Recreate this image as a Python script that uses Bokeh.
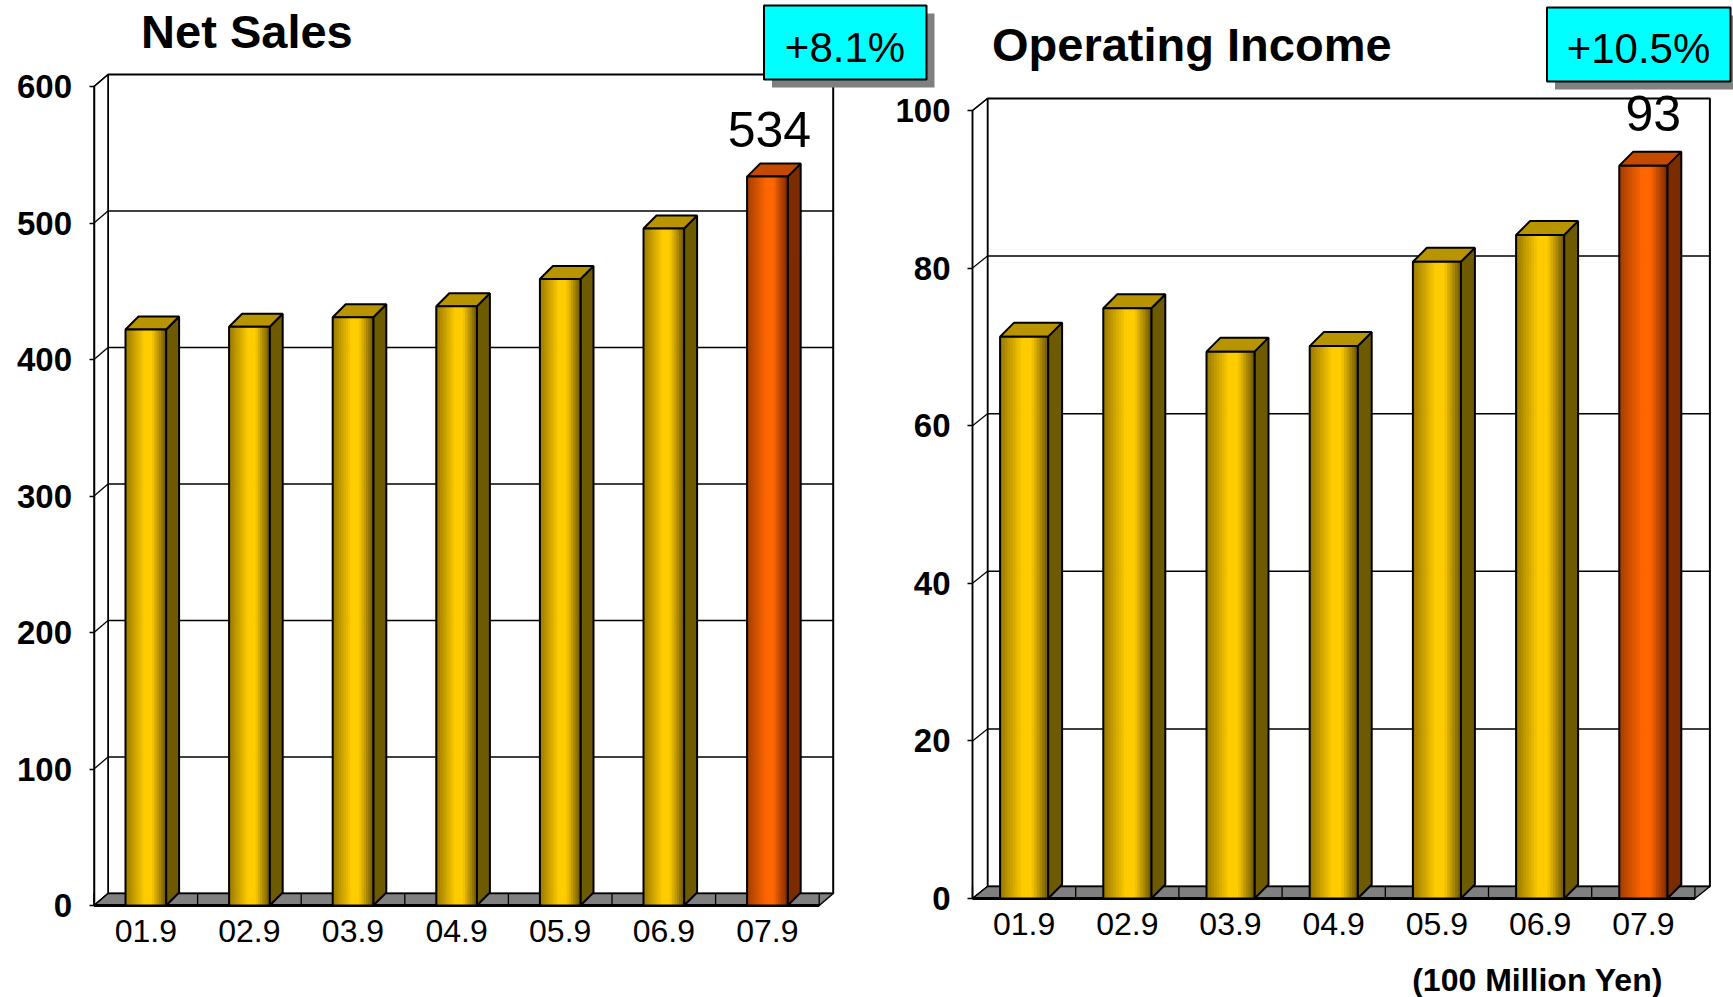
import numpy as np
from bokeh.plotting import figure
from bokeh.models import Range1d, LinearAxis, FixedTicker
from bokeh.core.properties import value
from bokeh.embed import file_html
from bokeh.resources import INLINE

# ---------------- data ----------------
categories = ["01.9", "02.9", "03.9", "04.9", "05.9", "06.9", "07.9"]
net_sales = [422, 424, 431, 439, 459, 496, 534]
operating_income = [71.3, 74.9, 69.4, 70.1, 80.8, 84.2, 93]
net_sales_ticks = [0, 100, 200, 300, 400, 500, 600]
op_income_ticks = [0, 20, 40, 60, 80, 100]
growth = ["+8.1%", "+10.5%"]
titles = ["Net Sales", "Operating Income"]
unit_note = "(100 Million Yen)"

W, H = 1733, 997
FONT = "Liberation Sans"

# ---------------- geometry (pixels) ----------------
left_cfg = dict(rn="default", x0=145.3, sx=103.6, y0=905.0, sy=1.365,
                wdx=14, wdy=12, bdx=13, bdy=13, bw=40.6,
                title_px=(140.6, 31), box_px=(763.5, 926, 5, 79), gtext_px=(844.5, 46.5),
                lab_dx=2, lab_dy=-47.5)
right_cfg = dict(rn="r", x0=1023.6, sx=103.2, y0=898.0, sy=7.88,
                 wdx=15, wdy=12, bdx=14, bdy=14, bw=48,
                 title_px=(991.5, 44), box_px=(1546.5, 1730, 7, 81), gtext_px=(1638, 47.5),
                 lab_dx=10, lab_dy=-52.5)


def rng(c):
    xr = Range1d(-c["x0"] / c["sx"], (W - c["x0"]) / c["sx"])
    yr = Range1d((c["y0"] - H) / c["sy"], c["y0"] / c["sy"])
    return xr, yr


lxr, lyr = rng(left_cfg)
rxr, ryr = rng(right_cfg)

p = figure(width=W, height=H, x_range=lxr, y_range=lyr, output_backend="svg",
           toolbar_location=None, x_axis_location=None, y_axis_location=None,
           min_border=0, title=None)
p.extra_x_ranges = {"r": rxr}
p.extra_y_ranges = {"r": ryr}
p.xgrid.visible = False
p.ygrid.visible = False
p.outline_line_color = None
p.background_fill_color = "white"
p.border_fill_color = "white"


def interp(stops, t):
    for (t0, c0), (t1, c1) in zip(stops[:-1], stops[1:]):
        if t0 <= t <= t1:
            f = 0 if t1 == t0 else (t - t0) / (t1 - t0)
            r = [int(round(a + (b - a) * f)) for a, b in zip(c0, c1)]
            return "#%02x%02x%02x" % tuple(r)
    return "#%02x%02x%02x" % stops[-1][1]


GOLD = dict(front=[(0, (150, 118, 0)), (0.48, (255, 204, 0)), (0.66, (255, 204, 0)), (1, (110, 88, 0))],
            side="#6e5a00", top="#b89500")
ORANGE = dict(front=[(0, (160, 60, 0)), (0.48, (255, 102, 0)), (0.66, (255, 102, 0)), (1, (125, 42, 0))],
              side="#7a2c00", top="#c44a00")


def draw_chart(c, values, ticks, title, gtext):
    rn = c["rn"]
    kw = dict(x_range_name=rn, y_range_name=rn)
    n = len(values)
    sx, sy = c["sx"], c["sy"]
    dxu, dyu = c["wdx"] / sx, c["wdy"] / sy
    bdx, bdy = c["bdx"] / sx, c["bdy"] / sy
    hw = c["bw"] / 2 / sx
    vmax = ticks[-1]
    xl, xr = -0.5, n - 0.5

    def px2x(px):
        return (px - c["x0"]) / sx

    def py2y(py):
        return (c["y0"] - py) / sy

    # back wall
    p.quad(left=[xl + dxu], right=[xr + dxu], bottom=[dyu], top=[vmax + dyu],
           fill_color="white", line_color="black", line_width=2, **kw)
    # side wall
    p.patch([xl, xl, xl + dxu, xl + dxu], [0, vmax, vmax + dyu, dyu],
            fill_color="white", line_color="black", line_width=1.5, **kw)
    inner = ticks[1:-1]
    p.segment(x0=[xl + dxu] * len(inner), y0=[t + dyu for t in inner],
              x1=[xr + dxu] * len(inner), y1=[t + dyu for t in inner],
              line_color="black", line_width=1.5, **kw)
    p.segment(x0=[xl] * len(ticks), y0=ticks, x1=[xl + dxu] * len(ticks),
              y1=[t + dyu for t in ticks], line_color="black", line_width=1.3, **kw)
    # floor
    p.patch([xl, xr, xr + dxu, xl + dxu], [0, 0, dyu, dyu],
            fill_color="#808080", line_color="black", line_width=1.5, **kw)
    ks = [k - 0.5 for k in range(n + 1)]
    p.segment(x0=ks, y0=[0] * len(ks), x1=ks, y1=[dyu] * len(ks),
              line_color="black", line_width=1.3, **kw)
    p.segment(x0=[xl], y0=[0], x1=[xr], y1=[0], line_color="black", line_width=3, **kw)

    # bars
    NS = 18
    sl, sr, sb, st, sc = [], [], [], [], []
    side_xs, side_ys, side_c = [], [], []
    top_xs, top_ys, top_c = [], [], []
    for i, v in enumerate(values):
        pal = ORANGE if i == n - 1 else GOLD
        left, right = i - hw, i + hw
        for k in range(NS):
            a = left + (right - left) * k / NS
            b = left + (right - left) * (k + 1) / NS
            sl.append(a); sr.append(b); sb.append(0); st.append(v)
            sc.append(interp(pal["front"], (k + 0.5) / NS))
        side_xs.append([right, right, right + bdx, right + bdx])
        side_ys.append([0, v, v + bdy, bdy])
        side_c.append(pal["side"])
        top_xs.append([left, right, right + bdx, left + bdx])
        top_ys.append([v, v, v + bdy, v + bdy])
        top_c.append(pal["top"])
    p.patches(side_xs, side_ys, fill_color=side_c, line_color="black", line_width=2, **kw)
    p.patches(top_xs, top_ys, fill_color=top_c, line_color="black", line_width=2, **kw)
    p.quad(left=sl, right=sr, bottom=sb, top=st, fill_color=sc, line_color=sc,
           line_width=1, **kw)
    p.quad(left=[i - hw for i in range(n)], right=[i + hw for i in range(n)],
           bottom=[0] * n, top=values, fill_color=None, line_color="black",
           line_width=2, **kw)

    # value label on last bar
    p.text(x=[n - 1], y=[values[-1]], text=["{:g}".format(values[-1])],
           x_offset=c["lab_dx"], y_offset=c["lab_dy"],
           text_font=value(FONT), text_font_size="50px", text_align="center",
           text_baseline="middle", text_color="black", **kw)

    # axes
    ya = LinearAxis(x_range_name=rn, y_range_name=rn,
                    ticker=FixedTicker(ticks=ticks), fixed_location=xl, bounds=(0, vmax))
    ya.axis_line_width = 1.5
    ya.axis_line_color = "black"
    ya.major_tick_in = 0
    ya.major_tick_out = 5
    ya.major_tick_line_width = 1.3
    ya.minor_tick_line_color = None
    ya.major_label_standoff = 17
    ya.major_label_text_font = FONT
    ya.major_label_text_font_style = "bold"
    ya.major_label_text_font_size = "33px"
    ya.major_label_text_color = "black"
    p.add_layout(ya, "left")

    xa = LinearAxis(x_range_name=rn, y_range_name=rn,
                    ticker=FixedTicker(ticks=list(range(n))), fixed_location=0,
                    major_label_overrides={i: cat for i, cat in enumerate(categories)})
    xa.axis_line_color = None
    xa.major_tick_line_color = None
    xa.minor_tick_line_color = None
    xa.major_label_standoff = 8
    xa.major_label_text_font = FONT
    xa.major_label_text_font_size = "32px"
    xa.major_label_text_color = "black"
    p.add_layout(xa, "below")

    # title
    tx, ty = c["title_px"]
    p.text(x=[px2x(tx)], y=[py2y(ty)], text=[title], text_font=value(FONT),
           text_font_style="bold", text_font_size="47px", text_align="left",
           text_baseline="middle", text_color="black", **kw)

    # growth box with shadow
    bl, br, bt, bb = c["box_px"]
    p.quad(left=[px2x(bl + 8)], right=[px2x(br + 8)], top=[py2y(bt + 8)], bottom=[py2y(bb + 8)],
           fill_color="#808080", line_color=None, **kw)
    p.quad(left=[px2x(bl)], right=[px2x(br)], top=[py2y(bt)], bottom=[py2y(bb)],
           fill_color="#00ffff", line_color="black", line_width=2, **kw)
    gx, gy = c["gtext_px"]
    p.text(x=[px2x(gx)], y=[py2y(gy)], text=[gtext], text_font=value(FONT),
           text_font_size="42px", text_align="center", text_baseline="middle",
           text_color="black", **kw)
    return px2x, py2y


draw_chart(left_cfg, net_sales, net_sales_ticks, titles[0], growth[0])
rpx, rpy = draw_chart(right_cfg, operating_income, op_income_ticks, titles[1], growth[1])

p.text(x=[rpx(1411.7)], y=[rpy(979.5)], text=[unit_note], text_font=value(FONT),
       text_font_style="bold", text_font_size="32px", text_align="left",
       text_baseline="middle", text_color="black", x_range_name="r", y_range_name="r")

open("out.html", "w").write(file_html(p, INLINE))
